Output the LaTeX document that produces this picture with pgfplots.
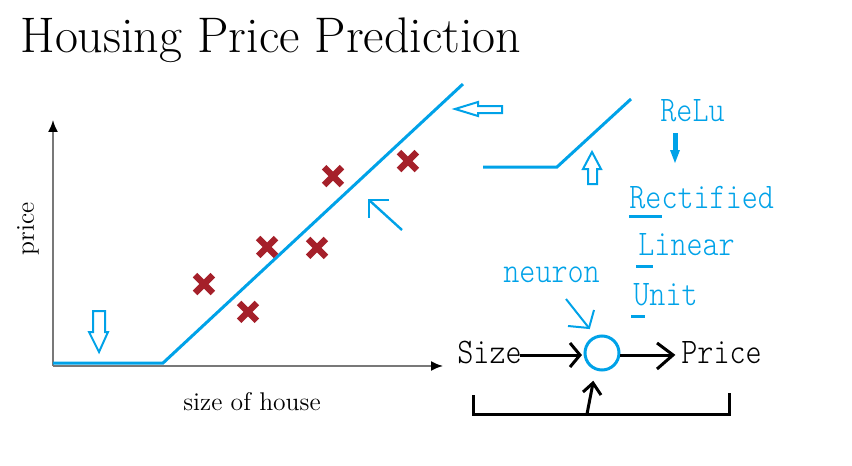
\documentclass[border=0pt]{standalone}
\usepackage{fontspec}
\usepackage{pgfplots}
\pgfplotsset{compat=1.18}
\usetikzlibrary{arrows.meta}
\newfontfamily\simfont[FakeStretch=0.85]{Latin Modern Mono Light}
\definecolor{pblue}{RGB}{0,162,232}
\definecolor{xred}{RGB}{165,32,42}
\definecolor{axgray}{RGB}{120,120,120}
\begin{document}
\begin{tikzpicture}
% ---------------- chart axis ----------------
\begin{axis}[
  scale only axis, width=195pt, height=123pt,
  at={(26.5pt,50pt)}, anchor=south west,
  xmin=0, xmax=10, ymin=0, ymax=10,
  axis lines=left,
  axis line style={line width=0.9pt, axgray, -{Latex[length=6pt,width=5pt,color=black]}},
  xtick=\empty, ytick=\empty,
  clip=false,
]
% ReLU fit line
\addplot[pblue, line width=1.5pt] coordinates {(0,0.12) (2.82,0.12) (10.51,11.46)};
% data points
\addplot[only marks, mark=x, mark size=6.3pt, xred, mark options={line width=3.2pt, line cap=butt}]
  coordinates {(3.87,3.33) (5.0,2.20) (5.49,4.84) (6.77,4.80) (7.18,7.72) (9.10,8.33)};
\end{axis}
% ---------------- overlay in pixel coordinates ----------------
\begin{axis}[
  scale only axis, width=426pt, height=233pt,
  at={(0,0)}, anchor=south west,
  xmin=0, xmax=852, ymin=0, ymax=466, y dir=reverse,
  hide axis, clip=false,
]
% small ReLU sketch
\addplot[pblue, line width=1.5pt] coordinates {(483,167) (557,167) (631,99)};
% texts
\node[anchor=base west, inner sep=0pt, font=\fontsize{25}{28}\selectfont] at (20,52) {Housing Price Prediction};
\node[anchor=center, inner sep=0pt, font=\fontsize{12.8}{15}\selectfont] at (252,402) {size of house};
\node[anchor=center, inner sep=0pt, rotate=90, font=\fontsize{12.8}{15}\selectfont] at (28,229) {price};
\begin{scope}[every node/.style={anchor=base west, inner sep=0pt, font=\simfont\fontsize{18}{22}\selectfont}]
\node[text=pblue] at (660,121) {ReLu};
\node[text=pblue] at (629,208) {Rectified};
\node[text=pblue] at (638,255) {Linear};
\node[text=pblue] at (633,305) {Unit};
\node[text=pblue] at (503,282) {neuron};
\node[text=black] at (457,363) {Size};
\node[text=black] at (681,363) {Price};
\end{scope}
% underlines
\draw[pblue, line width=1.5pt] (629,216) -- (662,216);
\draw[pblue, line width=1.5pt] (636,266) -- (653,266);
\draw[pblue, line width=1.5pt] (631,316) -- (645,316);
% hollow arrows
\draw[pblue, line width=1pt, line join=miter] (93,311) -- (105,311) -- (105,332) -- (108,332) -- (99,352) -- (89,332) -- (93,332) -- cycle;
\draw[pblue, line width=1pt, line join=miter] (455,109) -- (478,102) -- (478,106) -- (502,106) -- (502,113) -- (478,113) -- (478,116) -- cycle;
\draw[pblue, line width=1pt, line join=miter] (592,152) -- (601,169) -- (597,169) -- (597,184) -- (588,184) -- (588,169) -- (583,169) -- cycle;
% up-left arrow
\draw[pblue, line width=1.2pt] (402,230) -- (369,200);
\draw[pblue, line width=1.2pt] (389,200) -- (369,200) -- (369,218);
% ReLu down arrow
\draw[pblue, line width=2.5pt] (675,133) -- (675,152);
\fill[pblue] (670,150) -- (680,150) -- (675,163) -- cycle;
% neuron arrow
\draw[pblue, line width=1pt] (566,299) -- (589,328);
\draw[pblue, line width=1pt] (568,326) -- (589,328) -- (594,310);
% neuron circle
\draw[pblue, line width=1.5pt] (602,353) circle[radius=8.5pt];
% black arrows
\draw[black, line width=1.5pt] (520,355) -- (580,355);
\draw[black, line width=1.5pt] (570,343) -- (580,355) -- (570,367);
\draw[black, line width=1.5pt] (620,355) -- (673,355);
\draw[black, line width=1.5pt] (657,343) -- (673,355) -- (657,369);
% bracket
\draw[black, line width=1.5pt] (473,395) -- (473,414) -- (729,414) -- (729,393);
\draw[black, line width=1.5pt] (587,414) -- (593,383);
\draw[black, line width=1.5pt] (583,392) -- (593,383) -- (601,395);
\end{axis}
\pgfresetboundingbox
\path (0,0) rectangle (426pt,233pt);
\end{tikzpicture}
\end{document}
